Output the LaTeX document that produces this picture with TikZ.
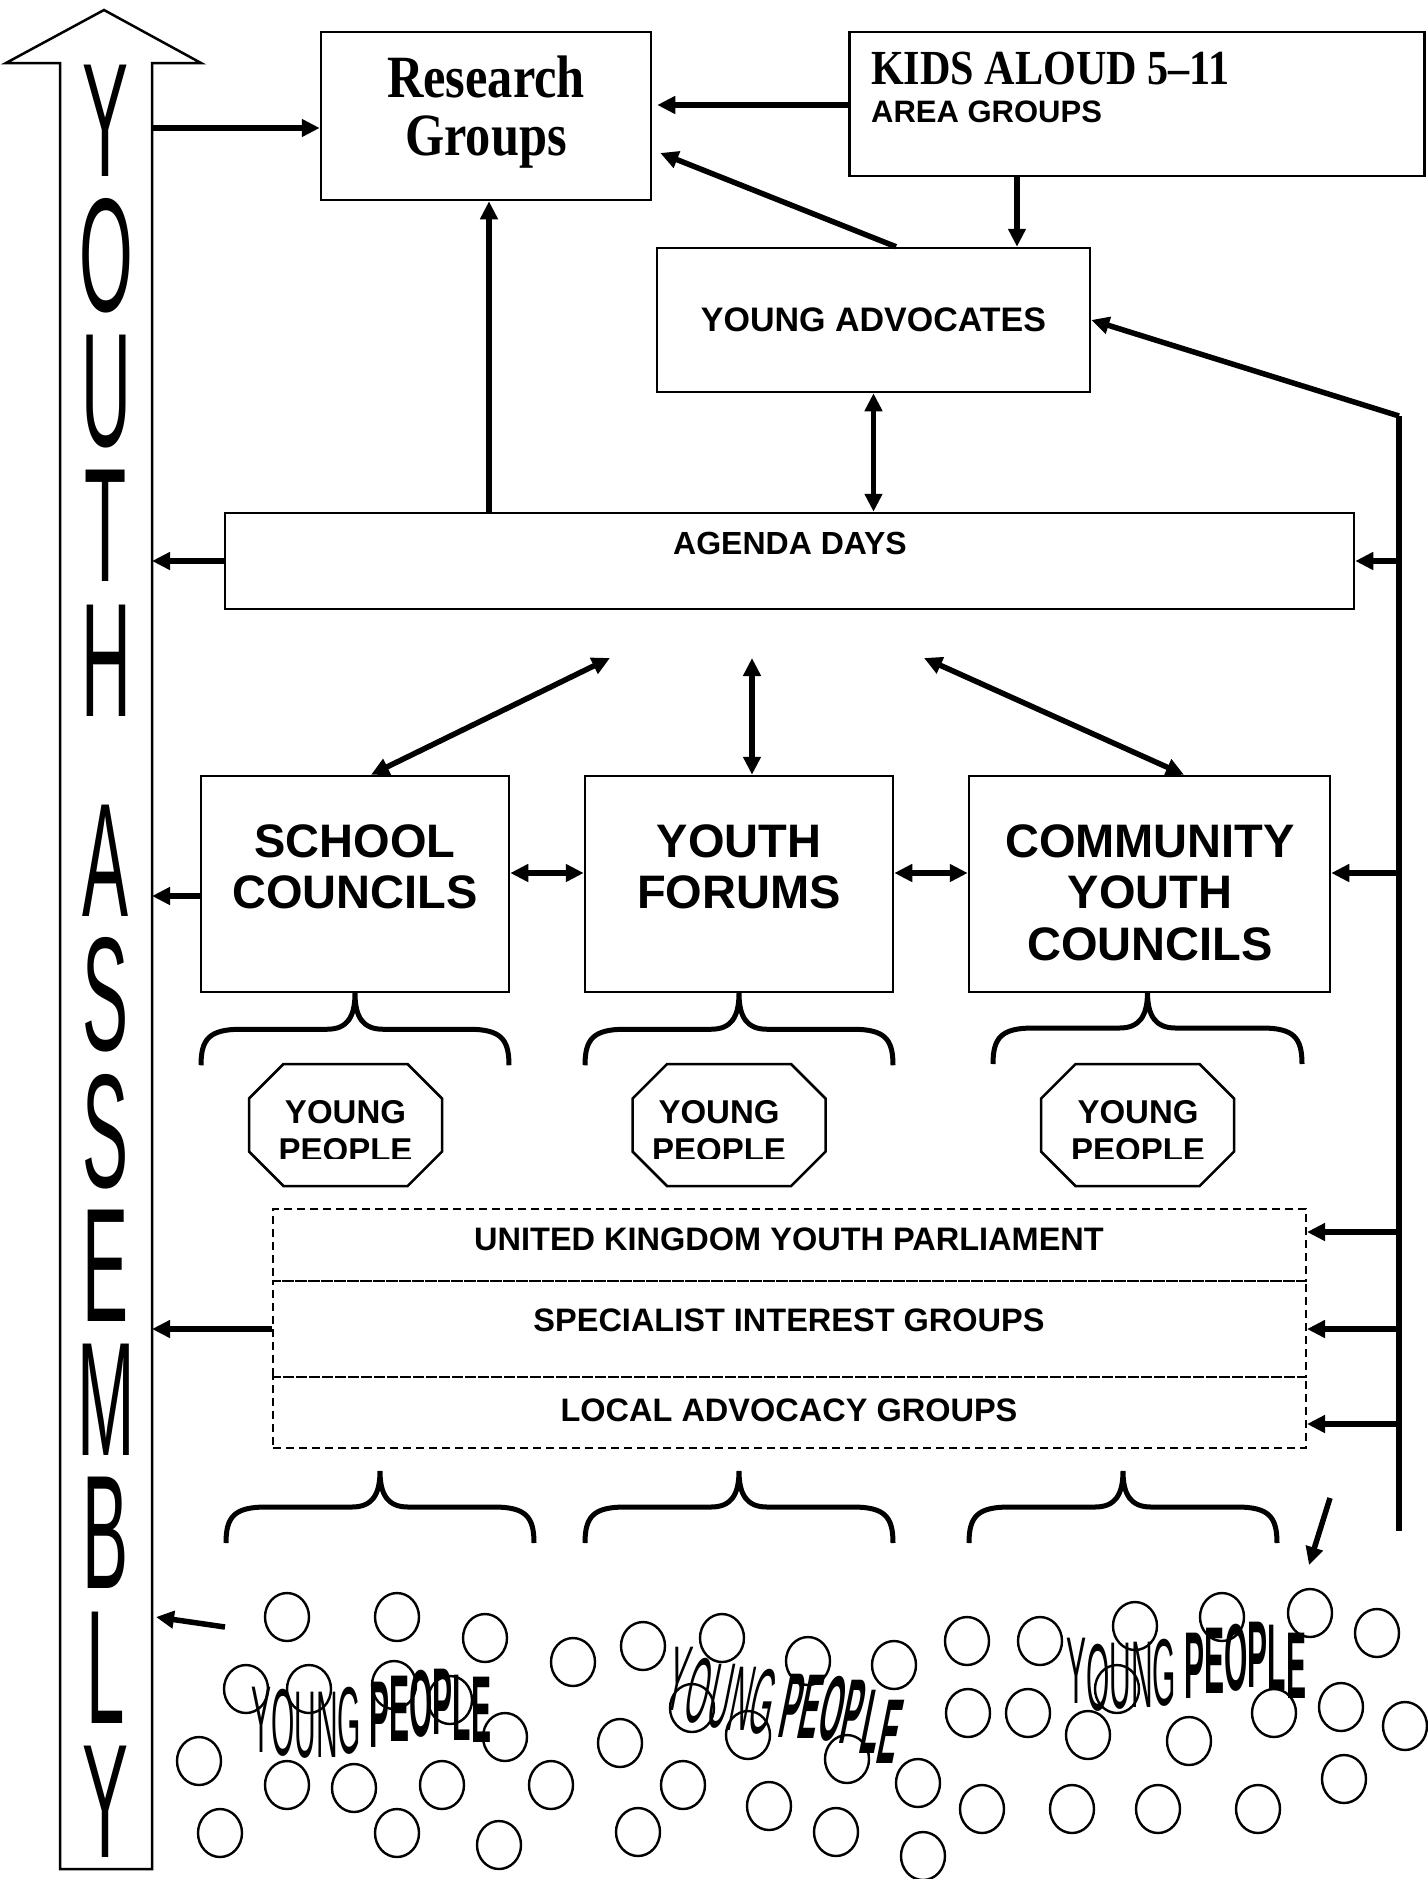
\documentclass[tikz,border=0pt]{standalone}
\usepackage{fontspec}
\setmainfont{Liberation Sans}
\newfontfamily\tnr{Liberation Serif}
\usetikzlibrary{arrows.meta,calc,shapes.geometric}
\tikzset{
  box/.style={draw, line width=2.5pt, inner sep=0pt},
  dbox/.style={draw, line width=2pt, dash pattern=on 8pt off 5pt, inner sep=0pt, minimum width=1033pt},
  txt/.style={inner sep=0pt},
  arr/.style={line width=5.5pt, -{Triangle[length=18pt,width=17pt]}},
  darr/.style={line width=5.5pt, {Triangle[length=18pt,width=17pt]}-{Triangle[length=18pt,width=17pt]}},
  brc/.style={line width=5pt},
  oct/.style={line width=2.5pt},
  person/.style={draw, ellipse, line width=2.4pt, minimum width=44pt, minimum height=48pt, inner sep=0pt},
  bigtxt/.style={font=\bfseries\fontsize{47}{51.5}\selectfont, align=center, anchor=north, inner sep=0pt},
  dtxt/.style={font=\bfseries\fontsize{32.5}{32.5}\selectfont, inner sep=0pt},
  yptxt/.style={font=\bfseries\fontsize{33}{33}\selectfont, inner sep=0pt, anchor=base},
  warp/.style={inner sep=0pt, anchor=base west}
}
\newcommand{\curly}[2]{\draw[brc, shift={(#1)}] (-#2,72) .. controls (-#2,46) and (-#2+8,36) .. (-#2+40,36) -- (-28,36) .. controls (-8,36) and (0,24) .. (0,0) .. controls (0,24) and (8,36) .. (28,36) -- (#2-40,36) .. controls (#2-8,36) and (#2,46) .. (#2,72);}
\newcommand{\octa}[1]{\draw[oct, shift={(#1)}] (-62,-61) -- (62,-61) -- (96.5,-26.5) -- (96.5,26.5) -- (62,61) -- (-62,61) -- (-96.5,26.5) -- (-96.5,-26.5) -- cycle;}
\newcommand{\wl}[2]{\raisebox{#1pt}{\scalebox{0.3}[0.95]{\fontsize{100}{100}\selectfont #2}}}
\newcommand{\wm}[2]{\raisebox{#1pt}{\scalebox{0.29}[0.92]{\fontsize{100}{100}\selectfont #2}}}
\begin{document}
\begin{tikzpicture}[x=1pt,y=-1pt]
\useasboundingbox (0,0) rectangle (1427,1879);

% big YOUTH ASSEMBLY arrow
\draw[line width=2.5pt, fill=white] (60,1869) -- (60,63) -- (6,63) -- (104,10) -- (201,63) -- (152,63) -- (152,1869) -- cycle;
\coordinate (shaft) at (152,0);
\foreach \l/\b [count=\i] in {Y/176, O/311, U/446, T/581, H/716, A/916, S/1050, S/1187, E/1321, M/1455, B/1588, L/1723, Y/1857}
  \node[inner sep=0pt, anchor=base] (asm\i) at (106,\b) {\scalebox{0.69}[1.62]{\fontsize{100}{100}\selectfont \l}};

% boxes
\node[box, minimum width=330pt, minimum height=168pt] (research) at (486,116) {};
\node[txt, anchor=north, align=center, font={\tnr\bfseries\fontsize{60}{58}\selectfont}] (researchT) at (486,56) {\scalebox{0.84}[1]{Research}\\\scalebox{0.84}[1]{Groups}};

\node[box, minimum width=575pt, minimum height=144pt] (kids) at (1137,104) {};
\node[txt, anchor=base west, font={\tnr\bfseries\fontsize{49}{49}\selectfont}] (kidsT) at (871,84) {\scalebox{0.86}[1]{KIDS ALOUD 5–11}};
\node[txt, anchor=base west, font={\bfseries\fontsize{31}{31}\selectfont}] (areaT) at (871,122) {AREA GROUPS};

\node[box, minimum width=433pt, minimum height=144pt, font={\bfseries\fontsize{34}{34}\selectfont}] (yadv) at (873.5,320) {YOUNG ADVOCATES};

\node[box, minimum width=1129pt, minimum height=96pt] (agenda) at (789.5,561) {};
\node[txt, font={\bfseries\fontsize{32}{32}\selectfont}] (agendaT) at (790,543) {AGENDA DAYS};

\node[box, minimum width=308pt, minimum height=216pt] (school) at (355,884) {};
\node[bigtxt] (schoolT) at (355,824) {SCHOOL\\COUNCILS};
\node[box, minimum width=308pt, minimum height=216pt] (forums) at (739,884) {};
\node[bigtxt] (forumsT) at (739,824) {YOUTH\\FORUMS};
\node[box, minimum width=361pt, minimum height=216pt] (community) at (1149.5,884) {};
\node[bigtxt] (communityT) at (1150,824) {COMMUNITY\\YOUTH\\COUNCILS};

% upper braces
\curly{school.south}{154}
\curly{forums.south}{154}
\curly{1147.5,992}{154.5}

% octagons
\node[inner sep=0pt, minimum width=193pt, minimum height=122pt] (yp1) at (345.5,1125) {};
\node[inner sep=0pt, minimum width=193pt, minimum height=122pt] (yp2) at (729,1125) {};
\node[inner sep=0pt, minimum width=193pt, minimum height=122pt] (yp3) at (1137.5,1125) {};
\octa{yp1.center}
\octa{yp2.center}
\octa{yp3.center}
\begin{scope}
\clip (0,1000) rectangle (1427,1158);
\node[yptxt] (yp1a) at (345.5,1123) {YOUNG};
\node[yptxt] (yp1b) at (345.5,1161) {PEOPLE};
\node[yptxt] (yp2a) at (719,1123) {YOUNG};
\node[yptxt] (yp2b) at (719,1161) {PEOPLE};
\node[yptxt] (yp3a) at (1138,1123) {YOUNG};
\node[yptxt] (yp3b) at (1138,1161) {PEOPLE};
\end{scope}

% dashed groups
\node[dbox, minimum height=72pt] (ukyp) at (789.5,1245) {};
\node[dbox, minimum height=96pt] (sig) at (789.5,1329) {};
\node[dbox, minimum height=71pt] (lag) at (789.5,1412.5) {};
\node[dtxt] (ukypT) at (789,1239) {UNITED KINGDOM YOUTH PARLIAMENT};
\node[dtxt] (sigT) at (789,1320) {SPECIALIST INTEREST GROUPS};
\node[dtxt] (lagT) at (789,1410) {LOCAL ADVOCACY GROUPS};

% lower braces
\curly{380,1471}{154}
\curly{739,1471}{154}
\curly{1123,1471}{154}

% right vertical line
\coordinate (rtop) at (1399,416);
\coordinate (rbot) at (1399,1531);
\draw[line width=5.5pt] (rtop) -- (rbot);

% connectors
\draw[arr] (shaft |- 0,128) -- (research.west |- 0,128);
\draw[arr] (kids.west |- 0,105) -- ($(research.east |- 0,105)+(5,0)$);
\draw[arr] ($(yadv.north)+(22.5,0)$) -- ($(research.east)+(8,37)$);
\draw[arr] (kids.south -| 1017,0) -- (yadv.north -| 1017,0);
\draw[arr] (rtop) -- (yadv.east);
\draw[arr] (agenda.north -| 489,0) -- (research.south -| 489,0);
\draw[darr] (yadv.south) -- (agenda.north -| yadv.south);
\draw[arr] (agenda.west) -- (shaft |- agenda.west);
\draw[arr] (rtop |- agenda.east) -- (agenda.east);
\coordinate (d1) at (610,658);
\coordinate (d2) at (752,658);
\coordinate (d3) at (924,658);
\draw[darr] (d1) -- ($(school.north)+(16,0)$);
\draw[darr] (d2) -- (forums.north -| d2);
\draw[darr] (d3) -- ($(community.north)+(34.5,0)$);
\draw[arr] (school.west |- 0,896) -- (shaft |- 0,896);
\draw[darr] (school.east |- 0,873) -- (forums.west |- 0,873);
\draw[darr] (forums.east |- 0,873) -- (community.west |- 0,873);
\draw[arr] (rtop |- 0,873) -- (community.east |- 0,873);
\draw[arr] (rtop |- 0,1232) -- (ukyp.east |- 0,1232);
\draw[arr] (rtop |- 0,1329) -- (sig.east |- 0,1329);
\draw[arr] (rtop |- 0,1424) -- (lag.east |- 0,1424);
\draw[arr] (sig.west) -- (shaft |- sig.west);
\coordinate (e1) at (1330,1498);
\coordinate (e2) at (1309,1565);
\draw[arr] (e1) -- (e2);
\coordinate (e3) at (225,1627);
\coordinate (e4) at (156,1617);
\draw[arr] (e3) -- (e4);

% young people crowd
\foreach \x/\y [count=\i] in {287/1617, 397/1617, 485/1638, 246/1689, 309/1689, 394/1685, 450/1700, 505/1737, 199/1761, 287/1785, 354/1788, 442/1785, 551/1785, 220/1833, 397/1833, 499/1845,
573/1662, 643/1646, 722/1638, 808/1661, 894/1665, 692/1708, 620/1743, 748/1735, 847/1759, 918/1783, 683/1785, 769/1806, 638/1832, 836/1832, 923/1856,
967/1641, 1040/1641, 1135/1626, 1222/1617, 1310/1613, 1377/1633, 968/1713, 1028/1713, 1117/1689, 1088/1735, 1189/1741, 1274/1713, 1341/1707, 1405/1726, 1344/1779, 982/1809, 1072/1809, 1158/1809, 1258/1809}
  \node[person] (p\i) at (\x,\y) {};

% warped "YOUNG PEOPLE" texts
\node[warp] (wa) at (251,1757) {\wl{5}{Y}\wl{2}{O}\wl{0}{U}\wl{0}{N}\wl{4}{G}\hspace*{8.34pt}\wl{10}{\bfseries P}\wl{16}{\bfseries E}\wl{21}{\bfseries O}\wl{23}{\bfseries P}\wl{17}{\bfseries L}\wl{15}{\bfseries E}};
\node[warp, xslant=0.2, transform shape] (wb) at (651.4,1763) {\wm{53}{Y}\kern2.4pt\wm{41}{O}\kern1pt\wm{36}{U}\kern0.6pt\wm{33}{N}\kern0.6pt\wm{30}{G}\kern8.86pt\wm{26}{\bfseries P}\kern0.2pt\wm{25}{\bfseries E}\kern0.4pt\wm{23}{\bfseries O}\kern0.6pt\wm{20}{\bfseries P}\kern2pt\wm{10}{\bfseries L}\kern2pt\wm{0}{\bfseries E}};
\node[warp] (wc) at (1066,1710) {\wl{7}{Y}\wl{0}{O}\wl{2}{U}\wl{3}{N}\wl{5}{G}\hspace*{8.34pt}\wl{12}{\bfseries P}\wl{17}{\bfseries E}\wl{20}{\bfseries O}\wl{23}{\bfseries P}\wl{20}{\bfseries L}\wl{12}{\bfseries E}};
\end{tikzpicture}
\end{document}
